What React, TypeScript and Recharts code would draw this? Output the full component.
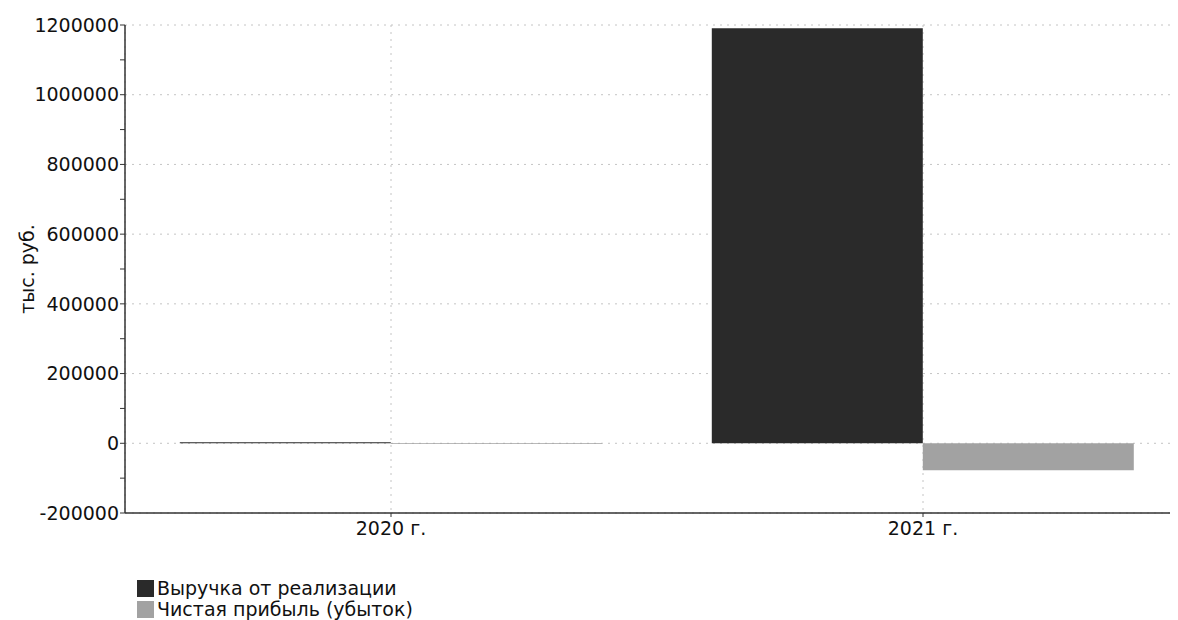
import React from "react";
import {
  BarChart,
  Bar,
  XAxis,
  YAxis,
  CartesianGrid,
  Legend,
} from "recharts";

// Categories and series (тыс. руб.)
const years = ["2020 г.", "2021 г."];
const revenue = [3000, 1191000];
const netProfit = [-2000, -77000];

// Axis ticks: labelled majors every 200k, minor ticks every 100k
const majorTicks = [-200000, 0, 200000, 400000, 600000, 800000, 1000000, 1200000];
const allTicks = [
  -200000, -100000, 0, 100000, 200000, 300000, 400000, 500000, 600000,
  700000, 800000, 900000, 1000000, 1100000, 1200000,
];

const seriesNames = {
  revenue: "Выручка от реализации",
  netProfit: "Чистая прибыль (убыток)",
};

const data = years.map((year, i) => ({
  year,
  revenue: revenue[i],
  netProfit: netProfit[i],
}));

const FONT = "'DejaVu Sans', Verdana, sans-serif";
const TEXT = "#111";

const YLabel = ({ viewBox }: any) => {
  const cx = 19;
  const cy = viewBox.y + viewBox.height / 2;
  return (
    <text
      x={cx}
      y={cy}
      transform={`rotate(-90, ${cx}, ${cy})`}
      textAnchor="middle"
      dominantBaseline="central"
      fill={TEXT}
      fontSize={19}
      fontFamily={FONT}
    >
      тыс. руб.
    </text>
  );
};

const LegendContent = ({ payload }: any) => (
  <div style={{ fontFamily: FONT, fontSize: 19, color: TEXT }}>
    {(payload || []).map((entry: any) => (
      <div
        key={entry.value}
        style={{ display: "flex", alignItems: "center", lineHeight: "21px", height: 21 }}
      >
        <span
          style={{
            display: "inline-block",
            width: 17,
            height: 17,
            background: entry.color,
            marginRight: 3,
          }}
        />
        {entry.value}
      </div>
    ))}
  </div>
);

const App: React.FC = () => {
  return (
    <div style={{ width: 1170, height: 612, overflow: "hidden" }}>
      <BarChart
        width={1181}
        height={612}
        data={data}
        margin={{ top: 17, right: 0, left: 0, bottom: 35 }}
        barCategoryGap="10.3%"
        barGap={0}
        style={{ fontFamily: FONT }}
      >
        <CartesianGrid
          stroke="#c4c4c4"
          strokeDasharray="2 5"
          horizontalValues={majorTicks}
        />
        <XAxis
          dataKey="year"
          height={30}
          tick={{ fill: TEXT, fontSize: 19, fontFamily: FONT }}
          axisLine={{ stroke: "#333", strokeWidth: 1.5 }}
          tickLine={{ stroke: "#333" }}
          tickSize={4}
          tickMargin={5}
        />
        <YAxis
          width={117}
          domain={[-200000, 1200000]}
          ticks={allTicks}
          interval={0}
          tickFormatter={(v: number) => (majorTicks.includes(v) ? String(v) : "")}
          tick={{ fill: TEXT, fontSize: 19, fontFamily: FONT }}
          axisLine={{ stroke: "#333", strokeWidth: 1.5 }}
          tickLine={{ stroke: "#333" }}
          tickSize={5}
          tickMargin={1}
          label={<YLabel />}
        />
        <Legend
          verticalAlign="bottom"
          align="left"
          layout="horizontal"
          content={<LegendContent />}
          wrapperStyle={{ left: 129, top: 570, bottom: "auto", width: "auto" }}
        />
        <Bar
          dataKey="revenue"
          name={seriesNames.revenue}
          fill="#2a2a2a"
          isAnimationActive={false}
        />
        <Bar
          dataKey="netProfit"
          name={seriesNames.netProfit}
          fill="#a2a2a2"
          isAnimationActive={false}
        />
      </BarChart>
    </div>
  );
};

export default App;
